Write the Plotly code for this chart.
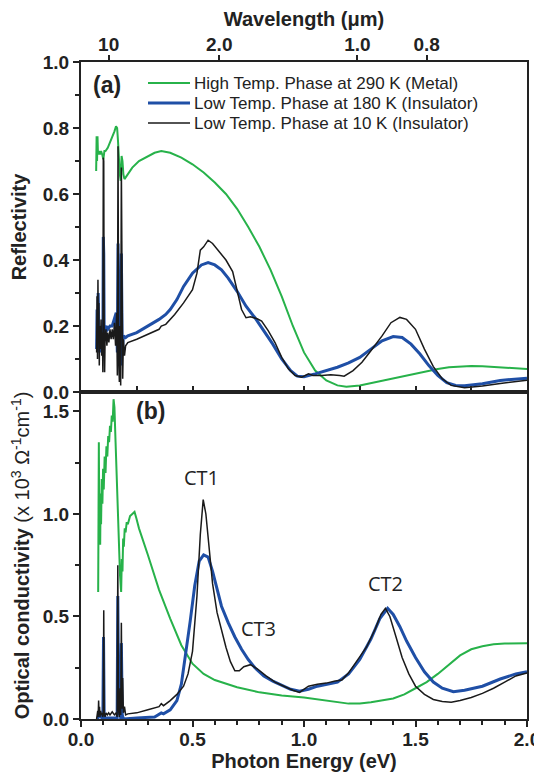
import plotly.graph_objects as go

# ---- reflectivity (top panel) ----
e_r290 = [0.068, 0.070, 0.072, 0.074, 0.076, 0.080, 0.085, 0.090, 0.095, 0.100, 0.105, 0.110, 0.120,
          0.130, 0.140, 0.150, 0.157, 0.162, 0.166, 0.170, 0.174, 0.178, 0.182, 0.186, 0.190, 0.195,
          0.200, 0.210, 0.230, 0.260, 0.300, 0.330, 0.360, 0.400, 0.450, 0.500, 0.550, 0.600, 0.650,
          0.700, 0.750, 0.800, 0.850, 0.900, 0.950, 1.000, 1.050, 1.100, 1.150, 1.190, 1.250, 1.300,
          1.350, 1.400, 1.450, 1.500, 1.550, 1.600, 1.650, 1.700, 1.750, 1.800, 1.850, 1.900, 1.950, 2.000]
r_290 = [0.67, 0.775, 0.70, 0.775, 0.72, 0.73, 0.72, 0.73, 0.72, 0.705, 0.73, 0.73, 0.74,
         0.755, 0.77, 0.79, 0.805, 0.80, 0.76, 0.70, 0.66, 0.64, 0.715, 0.70, 0.66, 0.645,
         0.65, 0.66, 0.68, 0.70, 0.715, 0.725, 0.73, 0.725, 0.71, 0.69, 0.665, 0.635, 0.60,
         0.555, 0.50, 0.44, 0.37, 0.29, 0.20, 0.12, 0.065, 0.035, 0.02, 0.016, 0.02, 0.027,
         0.035, 0.042, 0.05, 0.057, 0.064, 0.07, 0.075, 0.078, 0.079, 0.078, 0.076, 0.074, 0.072, 0.07]

e_r180 = [0.070, 0.072, 0.075, 0.077, 0.080, 0.083, 0.086, 0.090, 0.095, 0.098, 0.100, 0.102, 0.104,
          0.108, 0.112, 0.120, 0.130, 0.140, 0.150, 0.158, 0.163, 0.166, 0.170, 0.174, 0.178, 0.181,
          0.185, 0.190, 0.200, 0.210, 0.250, 0.300, 0.350, 0.380, 0.400, 0.430, 0.460, 0.500, 0.540,
          0.570, 0.600, 0.630, 0.660, 0.700, 0.740, 0.780, 0.820, 0.860, 0.900, 0.940, 0.970, 1.000,
          1.050, 1.100, 1.150, 1.200, 1.250, 1.300, 1.350, 1.400, 1.440, 1.480, 1.520, 1.560, 1.600,
          1.640, 1.680, 1.720, 1.800, 1.880, 1.950, 2.000]
r_180 = [0.13, 0.25, 0.15, 0.30, 0.18, 0.12, 0.20, 0.17, 0.20, 0.12, 0.47, 0.42, 0.16,
         0.19, 0.20, 0.19, 0.20, 0.20, 0.22, 0.24, 0.12, 0.45, 0.12, 0.25, 0.08, 0.42,
         0.12, 0.17, 0.165, 0.17, 0.18, 0.20, 0.22, 0.235, 0.25, 0.28, 0.32, 0.36, 0.385,
         0.392, 0.385, 0.37, 0.345, 0.305, 0.26, 0.225, 0.185, 0.145, 0.10, 0.065, 0.048, 0.046,
         0.055, 0.065, 0.075, 0.088, 0.105, 0.13, 0.155, 0.168, 0.165, 0.145, 0.115, 0.08, 0.05,
         0.028, 0.02, 0.019, 0.025, 0.035, 0.04, 0.042]

e_r10 = [0.070, 0.072, 0.074, 0.076, 0.078, 0.080, 0.082, 0.084, 0.087, 0.090, 0.093, 0.096, 0.098,
         0.100, 0.102, 0.104, 0.106, 0.108, 0.112, 0.116, 0.120, 0.125, 0.130, 0.135, 0.140, 0.145,
         0.150, 0.155, 0.160, 0.163, 0.166, 0.169, 0.172, 0.175, 0.178, 0.181, 0.184, 0.187, 0.190,
         0.195, 0.200, 0.210, 0.250, 0.300, 0.350, 0.360, 0.380, 0.420, 0.460, 0.500, 0.520, 0.535,
         0.550, 0.570, 0.590, 0.620, 0.650, 0.680, 0.700, 0.720, 0.740, 0.760, 0.790, 0.810, 0.840,
         0.870, 0.900, 0.930, 0.960, 0.990, 1.020, 1.040, 1.080, 1.120, 1.160, 1.180, 1.220, 1.260,
         1.300, 1.350, 1.390, 1.430, 1.460, 1.500, 1.540, 1.580, 1.620, 1.660, 1.720, 1.800, 1.880,
         1.950, 2.000]
r_10 = [0.12, 0.29, 0.10, 0.34, 0.15, 0.27, 0.08, 0.20, 0.13, 0.22, 0.11, 0.18, 0.06,
        0.71, 0.70, 0.15, 0.06, 0.16, 0.19, 0.14, 0.18, 0.15, 0.19, 0.16, 0.19, 0.16,
        0.21, 0.14, 0.24, 0.05, 0.745, 0.10, 0.03, 0.20, 0.02, 0.68, 0.10, 0.04, 0.16,
        0.11, 0.14, 0.15, 0.16, 0.175, 0.19, 0.20, 0.205, 0.235, 0.27, 0.31, 0.36, 0.43,
        0.44, 0.46, 0.45, 0.425, 0.40, 0.365, 0.31, 0.25, 0.225, 0.228, 0.222, 0.215, 0.185,
        0.15, 0.105, 0.07, 0.05, 0.045, 0.055, 0.05, 0.05, 0.052, 0.05, 0.048, 0.065, 0.09,
        0.125, 0.17, 0.21, 0.226, 0.22, 0.19, 0.13, 0.077, 0.04, 0.02, 0.013, 0.018, 0.026,
        0.032, 0.036]

# ---- optical conductivity (bottom panel), x 10^3 ohm^-1 cm^-1 ----
e_s290 = [0.077, 0.080, 0.082, 0.084, 0.086, 0.088, 0.090, 0.093, 0.096, 0.099, 0.102, 0.106, 0.110,
          0.114, 0.118, 0.122, 0.126, 0.130, 0.134, 0.138, 0.142, 0.146, 0.150, 0.155, 0.165, 0.175,
          0.180, 0.183, 0.186, 0.189, 0.192, 0.196, 0.200, 0.205, 0.210, 0.220, 0.230, 0.240, 0.248,
          0.260, 0.300, 0.350, 0.400, 0.450, 0.500, 0.550, 0.600, 0.700, 0.800, 0.900, 1.000, 1.100,
          1.200, 1.250, 1.300, 1.400, 1.450, 1.500, 1.550, 1.600, 1.650, 1.700, 1.750, 1.800, 1.850,
          1.900, 2.000]
s_290 = [0.62, 1.35, 0.95, 1.05, 0.85, 1.10, 0.95, 1.17, 1.05, 1.22, 1.12, 1.28, 1.20,
         1.33, 1.28, 1.38, 1.35, 1.43, 1.40, 1.48, 1.45, 1.56, 1.52, 1.35, 1.00, 0.70,
         0.62, 0.78, 0.72, 0.88, 0.84, 0.93, 0.91, 0.96, 0.95, 0.99, 1.00, 1.01, 0.98,
         0.93, 0.80, 0.63, 0.49, 0.36, 0.27, 0.22, 0.19, 0.155, 0.13, 0.115, 0.105, 0.09,
         0.075, 0.076, 0.082, 0.10, 0.12, 0.15, 0.18, 0.22, 0.265, 0.31, 0.34, 0.355, 0.365,
         0.368, 0.37]

e_s180 = [0.075, 0.080, 0.090, 0.098, 0.101, 0.104, 0.110, 0.150, 0.162, 0.165, 0.169, 0.175, 0.178,
          0.181, 0.185, 0.190, 0.250, 0.330, 0.360, 0.370, 0.400, 0.430, 0.450, 0.470, 0.490, 0.510,
          0.530, 0.550, 0.570, 0.590, 0.610, 0.630, 0.660, 0.690, 0.720, 0.750, 0.780, 0.820, 0.860,
          0.900, 0.940, 0.980, 1.020, 1.060, 1.100, 1.150, 1.200, 1.250, 1.300, 1.340, 1.375, 1.400,
          1.430, 1.460, 1.500, 1.540, 1.580, 1.620, 1.670, 1.720, 1.800, 1.880, 1.950, 2.000]
s_180 = [0.0, 0.02, 0.01, 0.0, 0.40, 0.01, 0.005, 0.005, 0.0, 0.60, 0.02, 0.10, 0.0,
         0.37, 0.02, 0.0, 0.005, 0.01, 0.03, 0.025, 0.045, 0.09, 0.17, 0.32, 0.48, 0.65,
         0.77, 0.80, 0.79, 0.72, 0.63, 0.55, 0.47, 0.40, 0.34, 0.29, 0.25, 0.21, 0.185,
         0.165, 0.145, 0.135, 0.145, 0.16, 0.17, 0.18, 0.22, 0.29, 0.39, 0.49, 0.54, 0.51,
         0.45, 0.38, 0.30, 0.23, 0.18, 0.15, 0.133, 0.14, 0.16, 0.195, 0.22, 0.23]

e_s10 = [0.070, 0.075, 0.077, 0.079, 0.081, 0.083, 0.085, 0.088, 0.091, 0.094, 0.097, 0.100, 0.102,
         0.104, 0.108, 0.112, 0.118, 0.124, 0.130, 0.140, 0.150, 0.158, 0.162, 0.165, 0.168, 0.172,
         0.175, 0.178, 0.181, 0.184, 0.187, 0.190, 0.195, 0.200, 0.210, 0.250, 0.300, 0.350, 0.360,
         0.370, 0.400, 0.430, 0.460, 0.480, 0.500, 0.520, 0.535, 0.548, 0.560, 0.575, 0.590, 0.610,
         0.630, 0.650, 0.670, 0.690, 0.710, 0.730, 0.760, 0.790, 0.830, 0.870, 0.910, 0.950, 0.980,
         1.000, 1.020, 1.060, 1.100, 1.140, 1.170, 1.200, 1.240, 1.280, 1.320, 1.345, 1.365, 1.385,
         1.410, 1.440, 1.470, 1.500, 1.540, 1.580, 1.620, 1.660, 1.700, 1.750, 1.800, 1.850, 1.900,
         1.950, 2.000]
s_10 = [0.0, 0.04, 0.01, 0.09, 0.02, 0.06, 0.01, 0.04, 0.02, 0.03, 0.01, 0.02, 0.53,
        0.03, 0.01, 0.03, 0.02, 0.03, 0.02, 0.035, 0.02, 0.03, 0.01, 0.75, 0.05, 0.01,
        0.15, 0.02, 0.47, 0.05, 0.20, 0.03, 0.06, 0.02, 0.025, 0.03, 0.045, 0.06, 0.075,
        0.065, 0.09, 0.12, 0.16, 0.22, 0.33, 0.60, 0.90, 1.07, 1.00, 0.82, 0.66, 0.52,
        0.43, 0.35, 0.28, 0.235, 0.235, 0.255, 0.265, 0.245, 0.21, 0.18, 0.16, 0.14, 0.13,
        0.145, 0.16, 0.17, 0.175, 0.185, 0.19, 0.225, 0.29, 0.35, 0.44, 0.51, 0.54, 0.50,
        0.41, 0.30, 0.22, 0.16, 0.12, 0.095, 0.085, 0.082, 0.09, 0.105, 0.125, 0.15, 0.18,
        0.21, 0.225]

# wavelength ticks on top axis (um -> eV)
wl_ticks = [10, 2.0, 1.0, 0.8]
wl_labels = ["10", "2.0", "1.0", "0.8"]

GREEN = "#27b24a"
BLUE = "#1f4fa6"
BLACK = "#1a1a1a"
FONT = "Liberation Sans, Arial, sans-serif"

names = ["High Temp. Phase at 290 K (Metal)",
         "Low Temp. Phase at 180 K (Insulator)",
         "Low Temp. Phase at 10 K (Insulator)"]
colors = [GREEN, BLUE, BLACK]
widths = [2, 3, 1.5]
top = [(e_r290, r_290), (e_r180, r_180), (e_r10, r_10)]
bot = [(e_s290, s_290), (e_s180, s_180), (e_s10, s_10)]

fig = go.Figure()
for (x, y), n, c, w in zip(top, names, colors, widths):
    fig.add_trace(go.Scatter(x=x, y=y, mode="lines", name=n, line=dict(color=c, width=w),
                             xaxis="x2", yaxis="y2", showlegend=False))
for (x, y), n, c, w in zip(bot, names, colors, widths):
    fig.add_trace(go.Scatter(x=x, y=y, mode="lines", name=n, line=dict(color=c, width=w),
                             xaxis="x", yaxis="y", showlegend=False))
# empty trace so the wavelength axis on top gets drawn
fig.add_trace(go.Scatter(x=[0, 2], y=[None, None], xaxis="x3", yaxis="y2",
                         showlegend=False, hoverinfo="skip"))

# the page has an 8px body margin, so the figure is a bit smaller than the window
W, H = 534, 768
ML, MR, MT, MB = 73, 15, 54, 57
PW, PH = W - ML - MR, H - MT - MB
split = 327 / 657

tickfont = dict(family=FONT, size=19, color="#222", weight="bold")
axis_common = dict(showline=True, linecolor="#222", linewidth=2, showgrid=False, zeroline=False,
                   tickfont=tickfont, tickcolor="#222", tickwidth=2, automargin=False)
minor_style = dict(ticks="outside", ticklen=4, tickcolor="#222", tickwidth=1.5)

fig.update_layout(
    width=W, height=H,
    margin=dict(l=ML, r=MR, t=MT, b=MB),
    paper_bgcolor="white", plot_bgcolor="white",
    font=dict(family=FONT, color="#222"),
    showlegend=False,
    xaxis=dict(domain=[0, 1], range=[0, 2], anchor="y", mirror=True, ticks="outside", ticklen=6,
               dtick=0.5, tickformat=".1f", minor=dict(dtick=0.1, **minor_style),
               ticklabelstandoff=-4,
               title=dict(text="<b>Photon Energy (eV)</b>", font=dict(size=20), standoff=2),
               **axis_common),
    yaxis=dict(domain=[0, split], range=[0, 1.595], anchor="x", mirror=True, ticks="outside",
               ticklen=6, dtick=0.5, tickformat=".1f", minor=dict(dtick=0.25, **minor_style),
               title=dict(text="<b>Optical conductivity</b> (x 10<sup>3</sup> Ω<sup>-1</sup>cm<sup>-1</sup>)",
                          font=dict(size=20), standoff=13),
               **axis_common),
    xaxis2=dict(domain=[0, 1], range=[0, 2], anchor="y2", mirror=True, ticks="inside", ticklen=6,
                dtick=0.25, showticklabels=False, **axis_common),
    yaxis2=dict(domain=[split, 1], range=[0, 1.0], anchor="x2", mirror=True, ticks="outside",
                ticklen=6, dtick=0.2, tickformat=".1f", minor=dict(dtick=0.1, **minor_style),
                title=dict(text="<b>Reflectivity</b>", font=dict(size=20), standoff=13),
                **axis_common),
    xaxis3=dict(overlaying="x2", anchor="y2", side="top", range=[0, 2],
                tickvals=[1.2398 / w for w in wl_ticks], ticktext=wl_labels,
                ticks="outside", ticklen=6, tickwidth=2, tickcolor="#222", automargin=False,
                ticklabelstandoff=-4,
                showline=False, showgrid=False, zeroline=False, tickfont=tickfont,
                title=dict(text="<b>Wavelength (μm)</b>", font=dict(size=20), standoff=2)),
)

# legend keys drawn by hand (pixel positions inside the top panel)
for i, (n, c, w) in enumerate(zip(names, colors, widths)):
    yp = 1 - (21 + 20 * i) / PH
    fig.add_shape(type="line", xref="paper", yref="paper",
                  x0=(140 - ML) / PW, x1=(182 - ML) / PW, y0=yp, y1=yp,
                  line=dict(color=c, width=w))
    fig.add_annotation(x=(184 - ML) / PW, y=yp, xref="paper", yref="paper", text=n,
                       xanchor="left", yanchor="middle", showarrow=False,
                       font=dict(family=FONT, size=17, color="#222"))

ann_font = dict(family="Open Sans, sans-serif", size=20, color="#222")
fig.add_annotation(x=0.115, y=0.93, xref="x2", yref="y2", text="<b>(a)</b>", showarrow=False,
                   font=dict(family=FONT, size=23, color="#222"))
fig.add_annotation(x=0.312, y=1.5, xref="x", yref="y", text="<b>(b)</b>", showarrow=False,
                   font=dict(family=FONT, size=23, color="#222"))
fig.add_annotation(x=0.54, y=1.18, xref="x", yref="y", text="CT1", showarrow=False, font=ann_font)
fig.add_annotation(x=0.794, y=0.443, xref="x", yref="y", text="CT3", showarrow=False, font=ann_font)
fig.add_annotation(x=1.366, y=0.663, xref="x", yref="y", text="CT2", showarrow=False, font=ann_font)

fig.write_html("out.html")
